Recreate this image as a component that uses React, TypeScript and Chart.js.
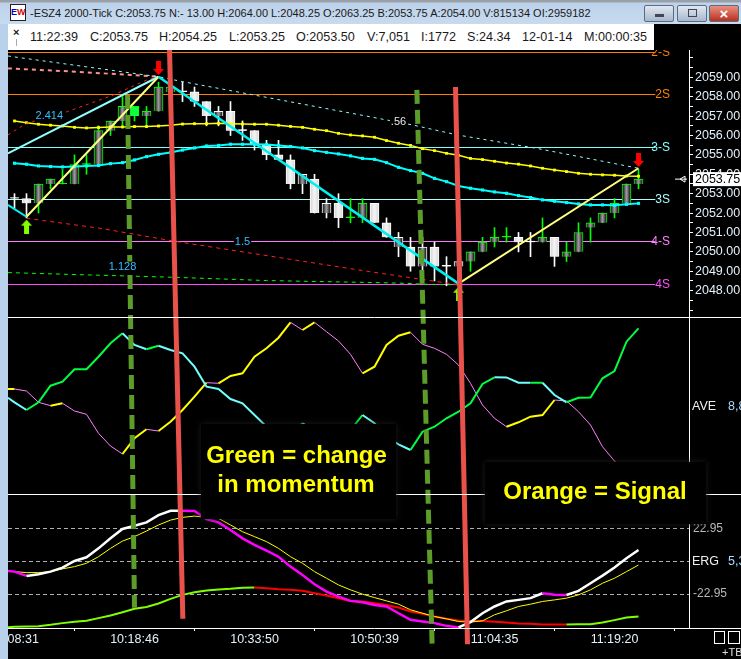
import React, { useEffect, useRef } from "react";
import { Chart, registerables } from "chart.js";

Chart.register(...registerables);

// ---------- data ----------
const barOpen = [2052.75,2052.75,2052.5,2053.5,2053.5,2053.5,2054.5,2054.5,2056.25,2056.75,2057,2057,2057.25,2058.25,2058.25,2058.25,2057.75,2057,2057.25,2056.25,2056.25,2055.5,2055,2054.75,2053.5,2053.75,2052,2052.5,2051.75,2051.75,2052.5,2051.5,2050.25,2050.25,2049.25,2050.25,2049.25,2049.25,2049.5,2050,2050.5,2050.75,2050.75,2050.5,2050.5,2050.75,2049.75,2050,2051.25,2051.5,2052,2052.5,2053.5];
const barHigh = [2053,2053,2053.5,2053.75,2054.25,2055,2055,2056.5,2056.75,2058,2057.5,2057.5,2058.75,2058.5,2058.75,2058.5,2057.75,2057.5,2057.75,2056.75,2056.25,2055.75,2055.75,2055,2054,2054,2052.75,2053,2052.75,2052.75,2052.5,2051.75,2051,2050.75,2050.75,2050.5,2049.75,2049.75,2050,2050.75,2051.25,2051.25,2051,2051,2051.75,2050.75,2050.5,2051.5,2051.75,2052,2052.75,2053.5,2054.25];
const barLow = [2052.25,2051.75,2052,2053.25,2053.5,2053.5,2054,2054.5,2056,2056.5,2056.75,2056.5,2057.25,2058.25,2057.75,2057.5,2056.5,2056.5,2056,2055.75,2055.25,2054.75,2054.75,2053.25,2053,2052,2051.75,2051.25,2051.5,2051.5,2051.5,2050.75,2049.75,2049,2049,2048.5,2048.25,2048.25,2049,2050,2050.25,2050.5,2050,2049.75,2050.5,2049.25,2049.5,2050,2050.5,2051.5,2051.75,2052.5,2053.25];
const barClose = [2052.75,2052.5,2053.5,2053.75,2053.5,2054.5,2054.5,2056.25,2056.75,2057.5,2057.5,2057.25,2058.5,2058.5,2058.25,2057.75,2057,2057.25,2056.25,2056.25,2055.5,2055,2054.75,2053.5,2054,2052,2052.5,2051.75,2051.75,2052.5,2051.5,2050.75,2050.75,2049.25,2050.25,2049.25,2049.25,2049.5,2050,2050.5,2050.75,2050.75,2050.5,2050.5,2050.75,2049.75,2050,2051,2051.5,2052,2052.5,2053.5,2053.75];
const greenDoji = [4, 6, 28, 41];
const hollowBars = [17, 24, 26, 32, 34, 37];
const brightBars = [10];

const yellowAvg = [2056.75,2056.66,2056.58,2056.53,2056.49,2056.42,2056.39,2056.41,2056.44,2056.44,2056.46,2056.46,2056.49,2056.53,2056.59,2056.61,2056.61,2056.63,2056.61,2056.59,2056.58,2056.58,2056.53,2056.47,2056.42,2056.32,2056.25,2056.11,2056.03,2055.98,2055.91,2055.74,2055.6,2055.49,2055.32,2055.22,2055.08,2054.98,2054.82,2054.76,2054.67,2054.58,2054.52,2054.43,2054.31,2054.22,2054.14,2054.05,2054,2053.97,2053.95,2053.91,2053.9];
const cyanAvg = [2054.57,2054.52,2054.43,2054.4,2054.38,2054.4,2054.43,2054.45,2054.55,2054.6,2054.74,2054.91,2055.03,2055.12,2055.25,2055.36,2055.46,2055.49,2055.55,2055.55,2055.55,2055.53,2055.49,2055.43,2055.36,2055.22,2055.13,2055.05,2054.95,2054.82,2054.77,2054.6,2054.36,2054.19,2054.05,2053.79,2053.62,2053.4,2053.28,2053.19,2053.09,2053.02,2052.9,2052.8,2052.68,2052.61,2052.54,2052.47,2052.42,2052.42,2052.4,2052.45,2052.5];

const levelPrices = [2060.2811, 2058.115, 2055.3815, 2052.6998, 2050.5338, 2048.3162];
const levelNames = ["2-S", "2S", "3-S", "3S", "4-S", "4S"];
const levelColors = ["#ff8000", "#ff8000", "#80ffff", "#a8ffff", "#ff80ff", "#ff50ff"];

const swingInX = [-0.55, 1];
const swingInY = [2052.42, 2051.81];
const riseCyanX = [-0.55, 12];
const riseCyanY = [2055.08, 2059.03];
const fallX = [12, 37];
const fallY = [2059.03, 2048.36];
const riseYellowX = [1, 12];
const riseYellowY = [2051.81, 2059.03];
const endYellowX = [37, 52];
const endYellowY = [2048.36, 2054.31];

const fibCyanX = [-0.55, 12, 14, 29.6, 33.2, 36.9, 43.5, 52];
const fibCyanY = [2060.1, 2059.03, 2058.78, 2056.97, 2056.54, 2056.03, 2055.34, 2054.31];
const fibPinkX = [-0.55, 5.2, 12];
const fibPinkY = [2059.46, 2059.29, 2059.03];
const fibRedUpX = [-0.55, 1, 4.4, 8.25, 11, 12];
const fibRedUpY = [2056.03, 2056.63, 2057.23, 2058.09, 2058.86, 2059.03];
const fibRedDownX = [1, 7.1, 13.5, 29.6, 37];
const fibRedDownY = [2051.73, 2051.22, 2050.53, 2048.98, 2048.3];
const fibGreenX = [-0.55, 6.2, 13.2, 21, 29.6, 32.6, 34, 37];
const fibGreenY = [2048.93, 2048.81, 2048.69, 2048.52, 2048.42, 2048.38, 2048.33, 2048.3];

const fibLabels = ["2.414", "1.5", "1.128", ".56"];
const fibLabelX = [2.9, 19, 9, 32];
const fibLabelY = [2057, 2050.5, 2049.24, 2056.7];
const fibLabelColors = ["#30c0ff", "#30c0ff", "#30c0ff", "#e8e8e8"];

const arrowBars = [1, 12, 37, 52];
const arrowPrices = [2051.3, 2059.48, 2047.84, 2054.74];
const arrowKinds = ["up", "down", "up", "down"];

// first value of each indicator series sits at the left edge, the rest on bars 0..52
const aveMain = [96.3,91.7,84,91.7,108.3,112.3,124.7,124.8,137.3,150.7,160.7,149,144.7,148.3,144,140.7,127.3,107.3,105,95,90.7,79,67.3,62.3,59,70.7,64,59,54,64,79,70.7,57.3,49.7,44,62.3,67.3,75.7,82.3,90.7,110,116.7,116.6,111.3,111.2,111.3,99,91.7,96.3,96.4,115.7,123,152.3,165.7];
const aveSignal = [104.9,105,103,91.7,88.3,90.7,83,79.7,60.7,48,40,55.7,64.7,63,72.3,84,97.3,111.3,110.7,118,120.7,137.3,145.7,156.3,171.7,164,171.7,162.3,153,139.7,120.7,127.3,149,158.3,161.7,149.7,145.7,139.7,129,110.7,89,75.7,67.3,71.7,77.3,79,94,93,82.3,69,47.3,33,19,5.7];
const ergFast = [-6.8,-7.3,-10.3,-9.1,-7.3,-4.5,0.1,2.7,8.9,15.9,22.4,24.7,27,32.1,35.1,35.2,34.9,29.3,27,21.7,15.9,11.3,7.3,3.1,-3.8,-9.6,-16.1,-21.2,-24.7,-27.7,-28.6,-30.5,-31.6,-36.3,-40.9,-42.1,-43.2,-45.1,-46.2,-42.5,-36.3,-31.6,-28.1,-27,-25.8,-22.4,-23.5,-23.6,-20.7,-15.4,-10.1,-4.5,2,7.8];
const ergSlow = [-7.2,-7.3,-8,-8,-7.3,-5.4,-3.8,-1.5,3.1,8.9,14,17.1,21,25.2,28.6,30.5,31.4,30.5,29.8,25.2,20.5,17.1,13.6,8.9,3.1,-1.5,-7.3,-11.9,-16.6,-20,-23,-25.4,-27.7,-30,-33.9,-36.3,-38.6,-40.2,-42.1,-42.5,-41.6,-37.4,-34.6,-31.6,-30,-28.1,-27,-25.8,-23.5,-20,-15.4,-11.9,-7.3,-2.7];
const ergBase = [-46,-45.8,-45.5,-45.3,-44.4,-43.2,-42.3,-41.6,-39.7,-37.9,-35.6,-33.2,-31.9,-29.5,-26.3,-23.5,-21.7,-20.5,-19.8,-19.3,-18.6,-18.4,-18.9,-19.6,-20,-20.7,-22.4,-24,-25.8,-27.7,-28.1,-29.3,-30.5,-32.3,-35.1,-36.7,-38.6,-40.2,-41.4,-41.8,-41.8,-42.3,-42.8,-43.5,-43.7,-44.1,-44.1,-44.1,-44,-43.9,-42.8,-41.1,-39.3,-38.6];

const ergTicks = [22.95, 0, -22.95];
const timeLabels = ["10:08:31", "10:18:46", "10:33:50", "10:50:39", "11:04:35", "11:19:20"];
const timeBars = [0, 10, 20, 30, 40, 50];
const priceLabelValue = 2053.75;
const firstPriceLabel = 2048;
const lastPriceLabel = 2059;

// hand-drawn marks on the reference: bar position and share of the plot height
const redMarkX = [[12.92, 14.03], [36.75, 37.75]];
const redMarkY = [[0, 98.4], [6.4, 102.8]];
const greenMarkX = [[9.42, 10], [33.53, 34.8]];
const greenMarkY = [[7.8, 96.5], [6.9, 102.8]];

const titleText = "-ESZ4 2000-Tick C:2053.75 N:- 13.00 H:2064.00 L:2048.25 O:2063.25 B:2053.75 A:2054.00 V:815134 OI:2959182";
const stripLabels = ["11:22:39", "C:2053.75", "H:2054.25", "L:2053.25", "O:2053.50", "V:7,051", "I:1772", "S:24.34", "12-01-14", "M:00:00:35"];
const stripLeft = [30, 90, 159, 229, 296, 367, 421, 467, 522, 584];

// ---------- helpers ----------
const FONT = '"Liberation Sans", Arial, sans-serif';
const pts = (xs: number[], ys: number[]) => xs.map((x, i) => ({ x, y: ys[i] }));
const indicator = (vals: number[]) => vals.map((y, i) => ({ x: i === 0 ? -0.55 : i - 1, y }));

function stripes(shades: number[]) {
  const c = document.createElement("canvas");
  c.width = 12;
  c.height = 1;
  const g = c.getContext("2d")!;
  for (let col = 0; col < 12; col++) {
    const raw = Math.abs(col + 0.5 - 2.5);
    const d = Math.min(raw, 12 - raw);
    const s = shades[Math.min(Math.floor(d), shades.length - 1)];
    g.fillStyle = `rgb(${s},${s},${s})`;
    g.fillRect(col, 0, 1, 1);
  }
  return g.createPattern(c, "repeat")!;
}

function arrow(kind: string) {
  const c = document.createElement("canvas");
  c.width = 11;
  c.height = 14;
  const g = c.getContext("2d")!;
  g.fillStyle = kind === "up" ? "#80ff00" : "#ff0000";
  if (kind === "up") {
    g.beginPath();
    g.moveTo(5.5, 0); g.lineTo(11, 6); g.lineTo(8, 6); g.lineTo(8, 14); g.lineTo(3, 14); g.lineTo(3, 6); g.lineTo(0, 6);
  } else {
    g.beginPath();
    g.moveTo(3, 0); g.lineTo(8, 0); g.lineTo(8, 8); g.lineTo(11, 8); g.lineTo(5.5, 14); g.lineTo(0, 8); g.lineTo(3, 8);
  }
  g.closePath();
  g.fill();
  return c;
}

const chrome = {
  id: "chrome",
  afterDatasetsDraw(chart: any) {
    const { ctx, scales, chartArea } = chart;
    const price = scales.price;
    const x = scales.x;
    const L = chartArea.left, R = chartArea.right, T = chartArea.top, B = chartArea.bottom;
    ctx.save();

    // panel frame
    ctx.strokeStyle = "#ffffff";
    ctx.lineWidth = 1;
    ctx.beginPath();
    ctx.moveTo(R + 0.5, T); ctx.lineTo(R + 0.5, B);
    const aveTop = scales.ave.top, ergTop = scales.erg.top;
    for (const y of [aveTop, ergTop, B]) {
      ctx.moveTo(L, Math.round(y) + 0.5);
      ctx.lineTo(741, Math.round(y) + 0.5);
    }
    ctx.stroke();

    // level names, clipped at the plot top
    ctx.save();
    ctx.beginPath();
    ctx.rect(0, T, 741, 659 - T);
    ctx.clip();
    ctx.font = `12px ${FONT}`;
    ctx.textBaseline = "middle";
    levelNames.forEach((n, i) => {
      ctx.fillStyle = levelColors[i];
      ctx.textAlign = "right";
      ctx.fillText(n, 670, price.getPixelForValue(levelPrices[i]) + 0.5);
    });
    ctx.restore();

    // fib labels
    ctx.font = `11px ${FONT}`;
    ctx.textAlign = "center";
    ctx.textBaseline = "middle";
    fibLabels.forEach((t, i) => {
      const w = ctx.measureText(t).width + 2;
      const px = x.getPixelForValue(fibLabelX[i]);
      const py = price.getPixelForValue(fibLabelY[i]);
      ctx.fillStyle = "#000";
      ctx.fillRect(px - w / 2, py - 5, w, 10);
      ctx.fillStyle = fibLabelColors[i];
      ctx.fillText(t, px, py);
    });

    // current price marker
    const cy = price.getPixelForValue(priceLabelValue);
    ctx.strokeStyle = "#fff";
    ctx.beginPath();
    ctx.moveTo(675, cy); ctx.lineTo(687, cy);
    ctx.moveTo(685, cy - 3); ctx.lineTo(680, cy); ctx.lineTo(685, cy + 3); ctx.lineTo(685, cy - 3);
    ctx.stroke();
    ctx.fillStyle = "#ffffff";
    ctx.fillRect(693, cy - 7, 48, 14);
    ctx.fillStyle = "#000";
    ctx.font = `12.5px ${FONT}`;
    ctx.textAlign = "left";
    ctx.fillText(priceLabelValue.toFixed(2), 695, cy + 0.5);

    // indicator names
    ctx.font = `12.5px ${FONT}`;
    const aveY = scales.ave.getPixelForValue(87);
    const ergY = scales.erg.getPixelForValue(0);
    ctx.fillStyle = "#f0f0f0";
    ctx.fillText("AVE", 692, aveY);
    ctx.fillText("ERG", 692, ergY);
    ctx.fillStyle = "#a8d8ff";
    ctx.fillText("8,8", 728, aveY);
    ctx.fillText("5,3", 728, ergY);

    // caption boxes cover the panels
    const captionBox = (bx: number, by: number, bw: number, bh: number) => {
      ctx.save();
      ctx.shadowColor = "rgba(32,32,32,0.9)";
      ctx.shadowBlur = 6;
      ctx.fillStyle = "#000";
      ctx.fillRect(bx, by, bw, bh);
      ctx.restore();
    };
    captionBox(201, 424, 195, 95);
    captionBox(485, 462, 221, 62);
    ctx.fillStyle = "#ffff00";
    ctx.font = `bold 24px ${FONT}`;
    ctx.textAlign = "center";
    ctx.fillText("Green = change", 296.5, 456);
    ctx.fillText("in momentum", 296, 485);
    ctx.fillText("Orange = Signal", 595, 492);

    // little boxes bottom right
    ctx.strokeStyle = "#ffffff";
    ctx.strokeRect(714.5, 631.5, 10, 12);
    ctx.strokeRect(728.5, 631.5, 11, 12);
    ctx.fillStyle = "#e0e0e0";
    ctx.font = `11px ${FONT}`;
    ctx.textAlign = "left";
    ctx.fillText("+TB", 722, 653);
    ctx.restore();
  },
};

export default function App() {
  const ref = useRef<HTMLCanvasElement>(null);

  useEffect(() => {
    document.body.style.margin = "0";
    document.body.style.background = "#000";
    const darkFill = stripes([150, 125, 85, 50, 30]);
    const whiteFill = stripes([242, 238, 230, 222, 215]);
    const green = "#00ff00";
    const bars = barOpen.map((_, i) => i);
    const isDoji = (i: number) => barOpen[i] === barClose[i];
    const isGreen = (i: number) =>
      hollowBars.includes(i) ? false : isDoji(i) ? greenDoji.includes(i) : barClose[i] > barOpen[i];
    const edge = bars.map((i) => (isGreen(i) ? green : "#ffffff"));
    const fill = bars.map((i) =>
      isDoji(i) ? edge[i] : brightBars.includes(i) ? "#10ff40" : hollowBars.includes(i) || isGreen(i) ? darkFill : whiteFill
    );

    const line = (data: any[], color: string, width: number, extra: any = {}) => ({
      type: "line",
      data,
      borderColor: color,
      borderWidth: width,
      pointRadius: 0,
      tension: 0,
      yAxisID: "price",
      ...extra,
    });
    const rising = (up: any, down: any) => (c: any) => (c.p1.parsed.y > c.p0.parsed.y ? up : down);

    const datasets: any[] = [
      // hand-drawn marks on top
      ...redMarkX.map((xs, i) =>
        line(pts(xs, redMarkY[i]), "#e8524a", 5, { yAxisID: "marks", clip: false })
      ),
      ...greenMarkX.map((xs, i) =>
        line(pts(xs, greenMarkY[i]), "#5c9c28", 5, { yAxisID: "marks", clip: false, borderDash: [14, 6] })
      ),
      // arrows
      {
        type: "line",
        data: pts(arrowBars, arrowPrices),
        showLine: false,
        yAxisID: "price",
        pointStyle: arrowKinds.map(arrow),
        pointRadius: 7,
        clip: false,
      },
      // swing lines
      line(pts(fallX, fallY), "#00f0f0", 2.5),
      line(pts(swingInX, swingInY), "#00f0f0", 2),
      line(pts(riseYellowX, riseYellowY), "#ffff80", 2),
      line(pts(endYellowX, endYellowY), "#ffff80", 2),
      line(pts(riseCyanX, riseCyanY), "#90ffff", 2),
      // dashed projections
      line(pts(fibCyanX, fibCyanY), "#90ffff", 1, { borderDash: [3, 4] }),
      line(pts(fibRedUpX, fibRedUpY), "#ff2020", 1, { borderDash: [3, 4] }),
      line(pts(fibRedDownX, fibRedDownY), "#ff2020", 1, { borderDash: [4, 4] }),
      line(pts(fibGreenX, fibGreenY), "#00ff00", 1, { borderDash: [4, 4] }),
      line(pts(fibPinkX, fibPinkY), "#ff9090", 2, { borderDash: [4, 4] }),
      // averages
      line(pts(bars, yellowAvg), "#ffff00", 1.5, { pointRadius: 2, pointStyle: "rect", pointBackgroundColor: "#ffff00", pointBorderWidth: 0 }),
      line(pts(bars, cyanAvg), "#00ffff", 2, { pointRadius: 2.2, pointStyle: "rect", pointBackgroundColor: "#00ffff", pointBorderWidth: 0 }),
      // candles
      {
        type: "bar",
        data: bars.map((i) => ({ x: i, y: [barOpen[i], barClose[i]] })),
        yAxisID: "price",
        barThickness: 9,
        grouped: false,
        minBarLength: 1,
        backgroundColor: fill,
        borderColor: edge,
        borderWidth: 1,
      },
      {
        type: "bar",
        data: bars.map((i) => ({ x: i, y: [barLow[i], barHigh[i]] })),
        yAxisID: "price",
        barThickness: 1,
        grouped: false,
        backgroundColor: edge,
        borderWidth: 0,
      },
      // levels
      ...levelPrices.map((p, i) =>
        line(pts([-0.55, 53.4], [p, p]), levelColors[i], 1)
      ),
      // AVE panel
      line(indicator(aveMain), "#00ff00", 2, {
        yAxisID: "ave",
        segment: { borderColor: rising("#00ff40", "#70ffff") },
      }),
      line(indicator(aveSignal), "#ffff00", 2, {
        yAxisID: "ave",
        segment: { borderColor: rising("#ffff00", "#ff80ff"), borderWidth: rising(2, 1) },
      }),
      // ERG panel
      line(indicator(ergFast), "#ffffff", 2.5, {
        yAxisID: "erg",
        segment: { borderColor: rising("#ffffff", "#ff00ff") },
      }),
      line(indicator(ergSlow), "#ffff00", 1, { yAxisID: "erg" }),
      line(indicator(ergBase), "#80ff00", 2, {
        yAxisID: "erg",
        segment: { borderColor: rising("#80ff00", "#ff0000") },
      }),
    ];

    const labelColor = "#e4f0fa";
    const chart = new Chart(ref.current!, {
      type: "bar",
      data: { datasets },
      plugins: [chrome],
      options: {
        animation: false,
        responsive: false,
        devicePixelRatio: 1,
        events: [],
        layout: { autoPadding: false, padding: { left: 8, top: 50, right: 0, bottom: 0 } },
        plugins: { legend: { display: false }, tooltip: { enabled: false }, title: { display: false } },
        scales: {
          x: {
            type: "linear",
            min: -0.5417,
            max: 56.208,
            offset: false,
            afterFit: (s: any) => { s.height = 31; s.paddingLeft = 0; s.paddingRight = 0; },
            afterBuildTicks: (s: any) => { s.ticks = timeBars.map((value) => ({ value })); },
            border: { display: false },
            grid: { drawOnChartArea: false, drawTicks: true, tickLength: 3, color: "#ffffff" },
            ticks: {
              autoSkip: false,
              maxRotation: 0,
              padding: 1,
              color: labelColor,
              font: { family: FONT, size: 12.5 },
              callback: (v: any) => timeLabels[timeBars.indexOf(v)],
            },
          },
          price: {
            type: "linear",
            position: "right",
            stack: "panels",
            stackWeight: 267,
            weight: 0,
            min: 2046.64,
            max: 2060.41,
            afterFit: (s: any) => { s.width = 52; },
            border: { display: false },
            grid: { drawOnChartArea: false, tickLength: 4, color: "#ffffff" },
            ticks: {
              stepSize: 0.5,
              includeBounds: false,
              autoSkip: false,
              padding: 2,
              color: labelColor,
              font: { family: FONT, size: 12.5 },
              callback: (v: any) =>
                Number(v) % 1 === 0 && v >= firstPriceLabel && v <= lastPriceLabel ? Number(v).toFixed(2) : "",
            },
          },
          ave: {
            type: "linear",
            position: "right",
            stack: "panels",
            stackWeight: 177,
            weight: 1,
            min: 0,
            max: 177,
            afterFit: (s: any) => { s.width = 52; },
            border: { display: false },
            grid: { display: false },
            ticks: { display: false },
          },
          erg: {
            type: "linear",
            position: "right",
            stack: "panels",
            stackWeight: 134,
            weight: 2,
            min: -46.6,
            max: 46.8,
            afterFit: (s: any) => { s.width = 52; },
            afterBuildTicks: (s: any) => { s.ticks = ergTicks.map((value) => ({ value })); },
            border: { display: false, dash: [4, 3] },
            grid: { color: "#b0b0b0", drawTicks: false },
            ticks: {
              padding: 4,
              color: "#b8b8b8",
              font: { family: FONT, size: 12 },
              callback: (v: any) => (v === 0 ? "" : String(v)),
            },
          },
          marks: { type: "linear", display: false, min: 0, max: 100, reverse: true },
        },
      },
    } as any);
    return () => chart.destroy();
  }, []);

  const text: React.CSSProperties = { position: "absolute", fontFamily: FONT, fontSize: 12.6, color: "#1a1a1a", whiteSpace: "nowrap", lineHeight: "14px" };
  const btn = (left: number, width: number, bg: string): React.CSSProperties => ({
    position: "absolute", left, top: 5, width, height: 15, border: "1px solid #5a6a80", borderRadius: 2, background: bg,
  });
  return (
    <div style={{ position: "relative", width: 741, height: 659, overflow: "hidden", background: "#000" }}>
      <canvas ref={ref} width={741} height={659} style={{ display: "block" }} />
      <div style={{ position: "absolute", left: 0, top: 0, width: 8, height: 659, background: "#b9d1ea" }} />
      <div style={{ position: "absolute", left: 0, top: 0, width: 741, height: 24, background: "linear-gradient(#9aa0a8 0, #9aa0a8 2px, #bcd2ea 3px, #c8daee 100%)" }}>
        <div style={{ position: "absolute", left: 10, top: 4, width: 14, height: 15, background: "#fff", border: "1px solid #222", fontFamily: FONT, fontSize: 9, fontWeight: 700, lineHeight: "15px", whiteSpace: "nowrap", overflow: "hidden" }}>
          <span style={{ color: "#0000d0" }}>E</span><span style={{ color: "#d00000" }}>W</span>
        </div>
        <div style={{ ...text, left: 30, top: 6, fontSize: 11 }}>{titleText}</div>
        <div style={btn(644, 28, "linear-gradient(#e0e8f2,#a8b8cc)")}>
          <div style={{ position: "absolute", left: 10, top: 8, width: 9, height: 3, background: "#445", }} />
        </div>
        <div style={btn(677, 28, "linear-gradient(#e0e8f2,#a8b8cc)")}>
          <div style={{ position: "absolute", left: 10, top: 3, width: 7, height: 6, border: "1px solid #445" }} />
        </div>
        <div style={btn(709, 28, "linear-gradient(#e89080,#b83020)")}>
          <div style={{ position: "absolute", width: 28, textAlign: "center", color: "#fff", fontFamily: FONT, fontWeight: 700, fontSize: 15, lineHeight: "15px" }}>×</div>
        </div>
      </div>
      <div style={{ position: "absolute", left: 8, top: 24, width: 646, height: 26, background: "#ffffff" }}>
        <div style={{ ...text, left: 5, top: 1, fontWeight: 700, fontSize: 11 }}>×</div>
        <div style={{ position: "absolute", left: 8, top: 15, width: 1, height: 7, background: "#aaa" }} />
        {stripLabels.map((t, i) => (
          <div key={t} style={{ ...text, left: stripLeft[i] - 8, top: 6 }}>{t}</div>
        ))}
      </div>
    </div>
  );
}
